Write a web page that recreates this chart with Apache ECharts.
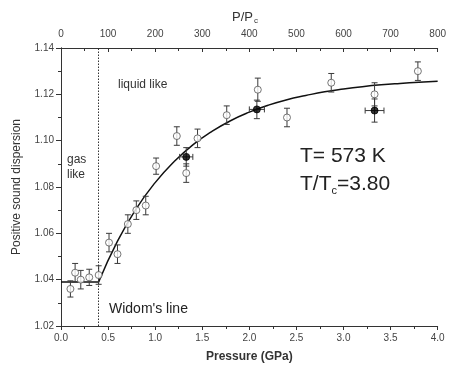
<!DOCTYPE html>
<html><head><meta charset="utf-8">
<script src="https://cdn.jsdelivr.net/npm/echarts@6/dist/echarts.min.js"></script>
<style>html,body{margin:0;padding:0;background:#fff}#c{width:449px;height:368px}</style>
</head><body><div id="c"></div>
<script>
// Open circles (measured points)
const openP   = [0.10, 0.15, 0.21, 0.30, 0.40, 0.51, 0.60, 0.71, 0.80, 0.90, 1.01, 1.23, 1.33, 1.45, 1.76, 2.09, 2.40, 2.87, 3.33, 3.79];
const openV   = [1.036, 1.043, 1.040, 1.041, 1.042, 1.056, 1.051, 1.064, 1.070, 1.072, 1.089, 1.102, 1.086, 1.101, 1.111, 1.122, 1.110, 1.125, 1.120, 1.130];
const openErr = [0.0035, 0.004, 0.004, 0.0035, 0.004, 0.004, 0.004, 0.004, 0.004, 0.004, 0.0035, 0.004, 0.004, 0.004, 0.004, 0.005, 0.004, 0.004, 0.005, 0.004];
// Filled circles
const filledP    = [1.33, 2.08, 3.33];
const filledV    = [1.093, 1.1135, 1.113];
const filledErrV = [0.004, 0.004, 0.005];
const filledErrP = [0.07, 0.08, 0.10];
// Fit line
const flatP = [0.0, 0.4];
const flatV = [1.039, 1.039];
const fitP = [0.4, 0.6, 0.8, 1.0, 1.2, 1.4, 1.6, 1.8, 2.0, 2.2, 2.4, 2.6, 2.8, 3.0, 3.2, 3.4, 3.6, 3.8, 4.0];
const fitV = [1.039, 1.0566, 1.0707, 1.0819, 1.0909, 1.0982, 1.1039, 1.1086, 1.1123, 1.1153, 1.1177, 1.1195, 1.1211, 1.1223, 1.1233, 1.1241, 1.1247, 1.1252, 1.1256];
const widomP = 0.4;
// Axis ticks
const xTicks = {min: 0, max: 4, step: 0.5};
const topTicks = {min: 0, max: 800, step: 100};
const yTicks = {min: 1.02, max: 1.14, step: 0.02};

const FONT = 'Liberation Sans, Arial, sans-serif';
const chart = echarts.init(document.getElementById('c'), null, {renderer: 'canvas'});

function zip(a, b, c, d) { return a.map((v, i) => [v, b[i], c ? c[i] : 0, d ? d[i] : 0]); }

function errRender(params, api) {
  const x = api.value(0), y = api.value(1), ey = api.value(2), ex = api.value(3);
  const st = {stroke: '#3a3a3a', lineWidth: 1};
  const ch = [];
  const t = api.coord([x, y + ey]), b = api.coord([x, y - ey]);
  const cw = 3;
  ch.push({type: 'line', shape: {x1: t[0], y1: t[1], x2: b[0], y2: b[1]}, style: st});
  ch.push({type: 'line', shape: {x1: t[0] - cw, y1: t[1], x2: t[0] + cw, y2: t[1]}, style: st});
  ch.push({type: 'line', shape: {x1: b[0] - cw, y1: b[1], x2: b[0] + cw, y2: b[1]}, style: st});
  if (ex > 0) {
    const l = api.coord([x - ex, y]), r = api.coord([x + ex, y]);
    ch.push({type: 'line', shape: {x1: l[0], y1: l[1], x2: r[0], y2: r[1]}, style: st});
    ch.push({type: 'line', shape: {x1: l[0], y1: l[1] - cw, x2: l[0], y2: l[1] + cw}, style: st});
    ch.push({type: 'line', shape: {x1: r[0], y1: r[1] - cw, x2: r[0], y2: r[1] + cw}, style: st});
  }
  return {type: 'group', children: ch};
}

const axisLine = {show: true, lineStyle: {color: '#333', width: 1}};
const lblStyle = {fontFamily: FONT, fontSize: 10, color: '#444'};

chart.setOption({
  animation: false,
  backgroundColor: '#fff',
  grid: {left: 61, right: 6, top: 48, bottom: 39, containLabel: false},
  xAxis: [
    {type: 'value', position: 'bottom', min: xTicks.min, max: xTicks.max, interval: xTicks.step,
     axisLine: axisLine, splitLine: {show: false},
     axisTick: {show: true, inside: false, length: 4, lineStyle: {color: '#333'}},
     minorTick: {show: true, splitNumber: 2, length: 3, lineStyle: {color: '#333'}},
     axisLabel: Object.assign({margin: 7, formatter: v => v.toFixed(1)}, lblStyle),
     name: 'Pressure (GPa)', nameLocation: 'middle', nameGap: 25,
     nameTextStyle: {fontFamily: FONT, fontSize: 12, fontWeight: 'bold', color: '#333'}},
    {type: 'value', position: 'top', min: topTicks.min, max: topTicks.max, interval: topTicks.step,
     axisLine: axisLine, splitLine: {show: false},
     axisTick: {show: true, inside: true, length: 4, lineStyle: {color: '#333'}},
     minorTick: {show: true, splitNumber: 2, length: 3, lineStyle: {color: '#333'}},
     axisLabel: Object.assign({margin: 9}, lblStyle)}
  ],
  yAxis: [
    {type: 'value', position: 'left', min: yTicks.min, max: yTicks.max, interval: yTicks.step,
     axisLine: axisLine, splitLine: {show: false},
     axisTick: {show: true, inside: false, length: 5, lineStyle: {color: '#333'}},
     minorTick: {show: true, splitNumber: 2, length: 3, lineStyle: {color: '#333'}},
     axisLabel: Object.assign({margin: 7, formatter: v => v.toFixed(2)}, lblStyle),
     name: 'Positive sound dispersion', nameLocation: 'middle', nameGap: 38,
     nameTextStyle: {fontFamily: FONT, fontSize: 12, color: '#333'}},
    {type: 'value', position: 'right', min: yTicks.min, max: yTicks.max, interval: yTicks.step,
     axisLine: axisLine, splitLine: {show: false},
     axisTick: {show: true, inside: true, length: 5, lineStyle: {color: '#333'}},
     minorTick: {show: true, splitNumber: 2, length: 3, lineStyle: {color: '#333'}},
     axisLabel: {show: false}}
  ],
  series: [
    {type: 'line', data: flatP.map((p, i) => [p, flatV[i]]), symbol: 'none',
     lineStyle: {color: '#111', width: 1.5}, z: 3,
     markLine: {silent: true, symbol: 'none', label: {show: false},
       lineStyle: {color: '#333', type: [1.5, 1.5], width: 1}, data: [{xAxis: widomP}]}},
    {type: 'line', data: fitP.map((p, i) => [p, fitV[i]]), symbol: 'none', smooth: 0.5,
     lineStyle: {color: '#111', width: 1.5}, z: 3},
    {type: 'custom', renderItem: errRender, data: zip(openP, openV, openErr), z: 4},
    {type: 'custom', renderItem: errRender, data: zip(filledP, filledV, filledErrV, filledErrP), z: 4},
    {type: 'scatter', data: openP.map((p, i) => [p, openV[i]]), symbol: 'circle', symbolSize: 7,
     itemStyle: {color: '#fff', borderColor: '#555', borderWidth: 1}, z: 5},
    {type: 'scatter', data: filledP.map((p, i) => [p, filledV[i]]), symbol: 'circle', symbolSize: 7,
     itemStyle: {color: '#000', borderColor: '#000', borderWidth: 1}, z: 6}
  ],
  graphic: [
    {type: 'text', left: 232, top: 9, style: {text: '{a|P/P}{s|c}', fontFamily: FONT, fill: '#333',
      rich: {a: {fontSize: 13, fontFamily: FONT, fill: '#333', lineHeight: 16},
             s: {fontSize: 8, fontFamily: FONT, fill: '#333', verticalAlign: 'bottom', lineHeight: 8, padding: [8, 0, 0, 1]}}}},
    {type: 'text', left: 67, top: 152, style: {text: 'gas\nlike', fontFamily: FONT, fontSize: 12, lineHeight: 15, fill: '#333'}},
    {type: 'text', left: 118, top: 79, style: {text: 'liquid like', fontFamily: FONT, fontSize: 12, fill: '#333'}},
    {type: 'text', left: 109, top: 302, style: {text: "Widom's line", fontFamily: FONT, fontSize: 14, fill: '#222'}},
    {type: 'text', left: 300, top: 146, style: {text: 'T= 573 K', fontFamily: FONT, fontSize: 21, fill: '#222'}},
    {type: 'text', left: 300, top: 173, style: {text: '{a|T/T}{s|c}{a|=3.80}', fontFamily: FONT, fill: '#222',
      rich: {a: {fontSize: 21, fontFamily: FONT, fill: '#222', lineHeight: 24},
             s: {fontSize: 11, fontFamily: FONT, fill: '#222', verticalAlign: 'bottom', lineHeight: 11, padding: [12, 0, 0, 0]}}}}
  ]
});
</script></body></html>
